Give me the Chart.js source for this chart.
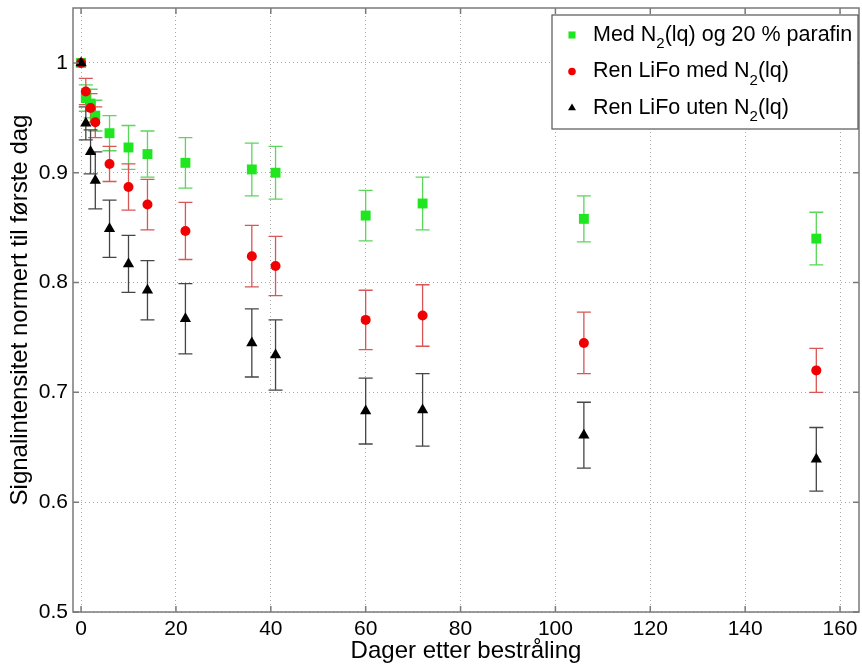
<!DOCTYPE html>
<html>
<head>
<meta charset="utf-8">
<script src="https://cdn.jsdelivr.net/npm/chart.js@4.4.0/dist/chart.umd.min.js"></script>
<style>
html, body { margin: 0; padding: 0; background: #fff; }
canvas { display: block; }
</style>
</head>
<body>
<canvas id="chart" width="862" height="666"></canvas>
<script>
// days after irradiation
const days = [0, 1, 2, 3, 6, 10, 14, 22, 36, 41, 60, 72, 106, 155];

// Med N2(lq) og 20 % parafin
const parafinVals = [1.0, 0.968, 0.963, 0.952, 0.936, 0.923, 0.917, 0.909, 0.903, 0.900, 0.861, 0.872, 0.858, 0.840];
const parafinErr  = [0, 0.012, 0.013, 0.014, 0.016, 0.020, 0.021, 0.023, 0.024, 0.024, 0.023, 0.024, 0.021, 0.024];

// Ren LiFo med N2(lq)
const medVals = [1.0, 0.974, 0.959, 0.946, 0.908, 0.887, 0.871, 0.847, 0.824, 0.815, 0.766, 0.770, 0.745, 0.720];
const medErr  = [0, 0.012, 0.013, 0.014, 0.016, 0.021, 0.023, 0.026, 0.028, 0.027, 0.027, 0.028, 0.028, 0.020];

// Ren LiFo uten N2(lq)
const utenVals = [1.0, 0.945, 0.919, 0.893, 0.849, 0.817, 0.793, 0.767, 0.745, 0.734, 0.683, 0.684, 0.661, 0.639];
const utenErr  = [0, 0.015, 0.020, 0.026, 0.026, 0.026, 0.027, 0.032, 0.031, 0.032, 0.030, 0.033, 0.030, 0.029];

const xTicks = [0, 20, 40, 60, 80, 100, 120, 140, 160];
const yTicks = [0.5, 0.6, 0.7, 0.8, 0.9, 1.0];

const FONT = '"Liberation Sans", Arial, sans-serif';

function toPoints(vals) {
    return days.map((d, i) => ({ x: d, y: vals[i] }));
}

// error bars drawn under the markers
const errorBars = {
    id: 'errorBars',
    beforeDatasetsDraw(chart) {
        const ctx = chart.ctx;
        const xs = chart.scales.x, ys = chart.scales.y;
        chart.data.datasets.forEach(ds => {
            ctx.save();
            ctx.strokeStyle = ds.errColor;
            ctx.lineWidth = 1.3;
            ds.data.forEach((p, j) => {
                const e = ds.errors[j];
                if (!e) return;
                const px = xs.getPixelForValue(p.x);
                const top = ys.getPixelForValue(p.y + e);
                const bot = ys.getPixelForValue(p.y - e);
                ctx.beginPath();
                ctx.moveTo(px, top); ctx.lineTo(px, bot);
                ctx.moveTo(px - 7, top); ctx.lineTo(px + 7, top);
                ctx.moveTo(px - 7, bot); ctx.lineTo(px + 7, bot);
                ctx.stroke();
            });
            ctx.restore();
        });
    }
};

// matlab style box with inner ticks
const frame = {
    id: 'frame',
    afterDatasetsDraw(chart) {
        const ctx = chart.ctx;
        const a = chart.chartArea;
        const xs = chart.scales.x, ys = chart.scales.y;
        ctx.save();
        ctx.strokeStyle = '#7a7a7a';
        ctx.lineWidth = 1.5;
        ctx.strokeRect(a.left, a.top, a.right - a.left, a.bottom - a.top);
        ctx.beginPath();
        xTicks.forEach(v => {
            const px = xs.getPixelForValue(v);
            ctx.moveTo(px, a.bottom); ctx.lineTo(px, a.bottom - 6);
            ctx.moveTo(px, a.top); ctx.lineTo(px, a.top + 6);
        });
        yTicks.forEach(v => {
            const py = ys.getPixelForValue(v);
            ctx.moveTo(a.left, py); ctx.lineTo(a.left + 6, py);
            ctx.moveTo(a.right, py); ctx.lineTo(a.right - 6, py);
        });
        ctx.stroke();
        ctx.restore();
    }
};

// legend box in the upper right corner, with subscript 2
const boxLegend = {
    id: 'boxLegend',
    afterDraw(chart) {
        const ctx = chart.ctx;
        const a = chart.chartArea;
        const w = 306, h = 114;
        const bx = a.right - w - 1, by = a.top + 7;
        ctx.save();
        ctx.fillStyle = '#fff';
        ctx.fillRect(bx, by, w, h);
        ctx.strokeStyle = '#555';
        ctx.lineWidth = 1.2;
        ctx.strokeRect(bx, by, w, h);
        ctx.textBaseline = 'middle';
        chart.data.datasets.forEach((ds, i) => {
            const cy = by + 20 + i * 36.5;
            ctx.fillStyle = ds.backgroundColor;
            Chart.helpers.drawPoint(ctx, { pointStyle: ds.pointStyle, radius: ds.legendRadius, borderWidth: 0 }, bx + 20, cy);
            const parts = ds.label.split('₂');
            let tx = bx + 41;
            ctx.fillStyle = '#000';
            parts.forEach((part, k) => {
                ctx.font = '21.5px ' + FONT;
                ctx.fillText(part, tx, cy);
                tx += ctx.measureText(part).width;
                if (k < parts.length - 1) {
                    ctx.font = '15px ' + FONT;
                    ctx.fillText('2', tx, cy + 9);
                    tx += ctx.measureText('2').width;
                }
            });
        });
        ctx.restore();
    }
};

new Chart(document.getElementById('chart').getContext('2d'), {
    type: 'scatter',
    data: {
        datasets: [
            {
                label: 'Med N₂(lq) og 20 % parafin',
                data: toPoints(parafinVals),
                errors: parafinErr,
                errColor: '#5ad65a',
                backgroundColor: '#1fe61f',
                pointStyle: 'rect',
                pointRadius: 7,
                legendRadius: 5,
                pointBorderWidth: 0,
                order: 3
            },
            {
                label: 'Ren LiFo med N₂(lq)',
                data: toPoints(medVals),
                errors: medErr,
                errColor: '#d85656',
                backgroundColor: '#f00000',
                pointStyle: 'circle',
                pointRadius: 5,
                legendRadius: 3.8,
                pointBorderWidth: 0,
                order: 2
            },
            {
                label: 'Ren LiFo uten N₂(lq)',
                data: toPoints(utenVals),
                errors: utenErr,
                errColor: '#454545',
                backgroundColor: '#000000',
                pointStyle: 'triangle',
                pointRadius: 6.5,
                legendRadius: 4.6,
                pointBorderWidth: 0,
                order: 1
            }
        ]
    },
    options: {
        responsive: false,
        animation: false,
        layout: { autoPadding: false, padding: { top: 8, right: 3, left: 0, bottom: 0 } },
        plugins: {
            legend: { display: false },
            tooltip: { enabled: false }
        },
        scales: {
            x: {
                type: 'linear',
                min: -1.7,
                max: 164,
                afterBuildTicks: scale => { scale.ticks = xTicks.map(v => ({ value: v })); },
                afterFit: scale => {
                    scale.height = 54;
                    scale.paddingLeft = 0;
                    scale.paddingRight = 0;
                },
                grid: { color: '#a8a8a8', drawTicks: false },
                border: { display: false, dash: [1, 3] },
                ticks: {
                    padding: 5,
                    color: '#000',
                    font: { family: FONT, size: 21 },
                    maxRotation: 0,
                    callback: v => String(v)
                },
                title: {
                    display: true,
                    text: 'Dager etter bestråling',
                    color: '#000',
                    font: { family: FONT, size: 24 },
                    padding: { top: 0, bottom: 0 }
                }
            },
            y: {
                type: 'linear',
                min: 0.5,
                max: 1.05,
                afterBuildTicks: scale => { scale.ticks = yTicks.map(v => ({ value: v })); },
                afterFit: scale => {
                    scale.width = 73;
                    scale.paddingTop = 0;
                    scale.paddingBottom = 0;
                },
                grid: { color: '#a8a8a8', drawTicks: false },
                border: { display: false, dash: [1, 3] },
                ticks: {
                    padding: 5,
                    color: '#000',
                    font: { family: FONT, size: 21 },
                    callback: v => String(Math.round(v * 10) / 10)
                },
                title: {
                    display: true,
                    text: 'Signalintensitet normert til første dag',
                    color: '#000',
                    font: { family: FONT, size: 24 },
                    padding: { top: 6, bottom: 0 }
                }
            }
        }
    },
    plugins: [errorBars, frame, boxLegend]
});
</script>
</body>
</html>
